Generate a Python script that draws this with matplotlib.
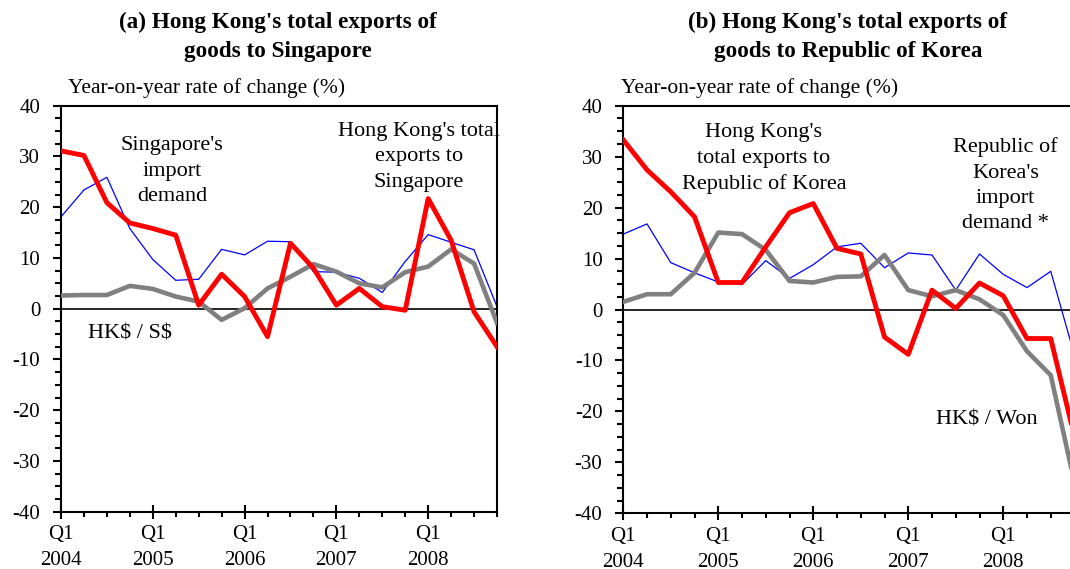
import matplotlib
matplotlib.use("Agg")
import matplotlib.pyplot as plt
from matplotlib.ticker import MultipleLocator, FixedLocator

plt.rcParams['font.family'] = ['Liberation Serif', 'DejaVu Serif']
plt.rcParams['axes.unicode_minus'] = False

quarters = list(range(20))  # Q1 2004 .. Q4 2008
year_labels = ["Q1\n2004", "Q1\n2005", "Q1\n2006", "Q1\n2007", "Q1\n2008"]

# (a) Singapore
sg_exports = [31.1, 30.2, 20.9, 16.9, 15.8, 14.5, 0.7, 6.8, 2.4, -5.5,
              12.9, 8.0, 0.7, 4.0, 0.4, -0.3, 21.7, 13.5, -0.6, -7.5]
sg_import_demand = [18.1, 23.4, 25.9, 15.8, 9.7, 5.6, 5.8, 11.7, 10.6, 13.3,
                    13.2, 7.3, 7.2, 6.0, 3.2, 9.3, 14.6, 13.1, 11.6, 0.4]
hkd_sgd = [2.6, 2.7, 2.7, 4.5, 3.9, 2.4, 1.4, -2.2, 0.1, 4.0,
           6.3, 8.8, 7.3, 5.0, 4.2, 7.2, 8.3, 11.7, 8.9, -2.8]

# (b) Republic of Korea
kr_exports = [33.3, 27.4, 23.1, 18.2, 5.3, 5.3, 12.3, 19.0, 20.8, 12.0,
              10.9, -5.4, -8.8, 3.8, 0.2, 5.2, 2.7, -5.7, -5.7, -25.0]
kr_import_demand = [14.8, 16.8, 9.2, 7.2, 5.4, 4.9, 9.6, 6.1, 8.8, 12.3,
                    13.0, 8.2, 11.1, 10.7, 3.8, 10.9, 6.9, 4.3, 7.5, -9.0]
hkd_krw = [1.5, 3.0, 3.0, 7.2, 15.1, 14.8, 11.7, 5.6, 5.3, 6.4,
           6.5, 10.7, 3.8, 2.6, 3.8, 2.0, -1.1, -8.2, -12.9, -34.0]

RED = "#ff0000"
BLUE = "#0000ff"
GREY = "#808080"

LABEL_FS = 16
TICK_FS = 15

fig = plt.figure(figsize=(10.70, 5.69), dpi=100)
ax_a = fig.add_axes([0.0570, 0.1007, 0.4075, 0.7135])
ax_b = fig.add_axes([0.5825, 0.0979, 0.4217, 0.7163])


def style_axes(ax):
    ax.set_xlim(0, 19)
    ax.set_ylim(-40, 40)
    ax.axhline(0, color="black", lw=1.2, zorder=1)
    ax.yaxis.set_major_locator(MultipleLocator(10))
    ax.yaxis.set_minor_locator(MultipleLocator(2.5))
    ax.xaxis.set_major_locator(FixedLocator([0, 4, 8, 12, 16]))
    ax.xaxis.set_minor_locator(FixedLocator(quarters))
    ax.set_xticklabels(year_labels)
    ax.tick_params(axis="y", which="major", direction="out", length=5.5,
                   width=1.5, labelsize=TICK_FS, pad=9.5)
    ax.tick_params(axis="y", which="minor", direction="out", length=4,
                   width=1.5)
    ax.tick_params(axis="x", which="major", direction="inout", length=9.5,
                   width=1.5, labelsize=TICK_FS, pad=5)
    ax.tick_params(axis="x", which="minor", direction="out", length=3.5,
                   width=1.5)
    for lbl in ax.get_xticklabels():
        lbl.set_linespacing(1.5)
    for s in ax.spines.values():
        s.set_linewidth(1.5)
        s.set_color("black")


for ax in (ax_a, ax_b):
    style_axes(ax)

note = dict(ha="center", va="center", fontsize=LABEL_FS, linespacing=1.45)

# Panel (a)
ax_a.plot(quarters, sg_import_demand, color=BLUE, lw=0.9, zorder=2)
ax_a.plot(quarters, hkd_sgd, color=GREY, lw=3.3, zorder=3)
ax_a.plot(quarters, sg_exports, color=RED, lw=3.5, zorder=4)
ax_a.text(4.85, 27.1, "Singapore's\nimport\ndemand", **note)
ax_a.text(15.6, 29.9, "Hong Kong's total\nexports to\nSingapore", **note)
ax_a.text(3.0, -5.0, r"HK\$ / S\$", **note)

# Panel (b)
ax_b.plot(quarters, kr_import_demand, color=BLUE, lw=0.9, zorder=2)
ax_b.plot(quarters, hkd_krw, color=GREY, lw=3.3, zorder=3)
ax_b.plot(quarters, kr_exports, color=RED, lw=3.5, zorder=4)
ax_b.text(5.92, 29.6, "Hong Kong's\ntotal exports to\nRepublic of Korea",
          **note)
ax_b.text(16.1, 24.4, "Republic of\nKorea's\nimport\ndemand *", **note)
ax_b.text(15.3, -21.7, r"HK\$ / Won", **note)

# Titles and y-axis captions
fig.text(278 / 1070, 1 - 37 / 569,
         "(a) Hong Kong's total exports of\ngoods to Singapore",
         ha="center", va="center", fontsize=16.7, fontweight="bold",
         linespacing=1.5)
fig.text(848 / 1070, 1 - 37 / 569,
         "(b) Hong Kong's total exports of\ngoods to Republic of Korea",
         ha="center", va="center", fontsize=16.7, fontweight="bold",
         linespacing=1.5)
fig.text(68 / 1070, 1 - 88 / 569, "Year-on-year rate of change (%)",
         ha="left", va="center", fontsize=15.5)
fig.text(621 / 1070, 1 - 88 / 569, "Year-on-year rate of change (%)",
         ha="left", va="center", fontsize=15.5)

fig.savefig("out.png", dpi=100)
